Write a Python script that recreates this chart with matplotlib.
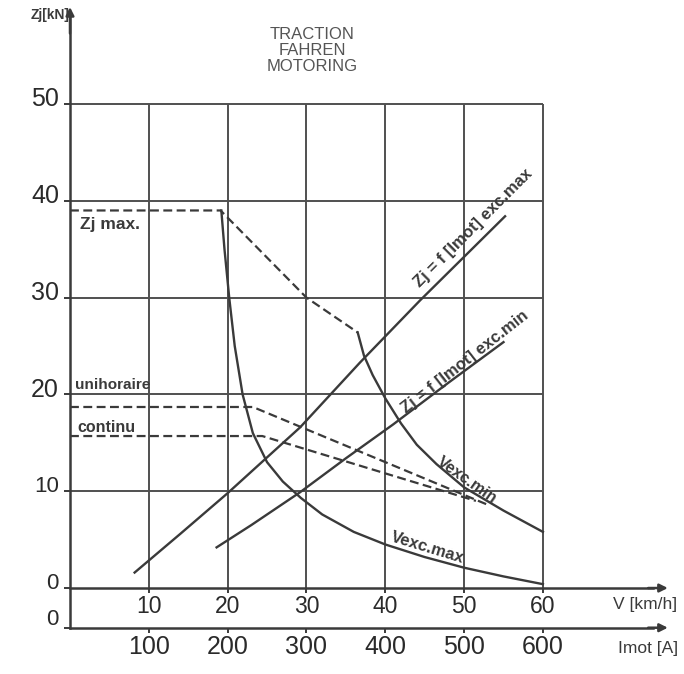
#Traction / Fahren / Motoring characteristic - Zj vs v and Imot
import matplotlib
matplotlib.use('Agg')
import matplotlib.pyplot as plt

plt.rcParams['font.family'] = ['Liberation Sans', 'DejaVu Sans']

#Data (v in km/h, Zj in kN)
v_ticks = [10, 20, 30, 40, 50, 60]
imot_ticks = [100, 200, 300, 400, 500, 600]
zj_ticks = [10, 20, 30, 40, 50]

zjmax_v = [0, 19.1, 30, 36.5]
zjmax_z = [39.0, 39.0, 30.0, 26.4]

unihor_v = [0, 23.2, 53.0]
unihor_z = [18.7, 18.7, 8.6]

continu_v = [0, 24.4, 51.5]
continu_z = [15.7, 15.7, 9.0]

vexcmax_v = [19.2, 19.6, 20.2, 20.9, 21.9, 23.2, 25, 27, 29.3, 32, 36, 40, 45, 50, 55, 60]
vexcmax_z = [39.0, 35, 30, 25, 20, 16, 13, 11, 9.3, 7.6, 5.8, 4.5, 3.2, 2.1, 1.2, 0.4]

vexcmin_v = [36.5, 37.3, 38.4, 40, 42, 44, 46.5, 50, 55, 60]
vexcmin_z = [26.4, 24, 22, 19.6, 17, 14.8, 12.8, 10.4, 8.0, 5.8]

excmax_v = [8.2, 14, 20, 29.2, 36.8, 44.4, 55.2]
excmax_z = [1.6, 5.6, 9.8, 16.6, 23.3, 29.7, 38.4]

excmin_v = [18.6, 23, 29.2, 35, 41, 48, 55]
excmin_z = [4.2, 6.5, 9.9, 13.4, 16.9, 21.2, 25.4]

ink = '#3a3a3a'
grid_c = '#505050'
num_c = '#2a2a2a'

fig = plt.figure(figsize=(6.84, 6.74), dpi=100)
ax = fig.add_axes([0, 0, 1, 1])
ax.set_xlim(-8.88, 77.9)
ax.set_ylim(-8.88, 60.74)
ax.axis('off')

#Grid
ax.vlines(v_ticks, 0, 50, color=grid_c, lw=1.4)
ax.hlines(zj_ticks, 0, 60, color=grid_c, lw=1.4)

#Axes with arrows
imot_y = -4.1
ax.plot([0, 0], [imot_y, 59], color=ink, lw=1.8)
ax.annotate('', xy=(0, 60.3), xytext=(0, 57),
            arrowprops=dict(arrowstyle='-|>', color=ink, lw=1.8, mutation_scale=12))
for y0 in [0, imot_y]:
    ax.plot([0, 74], [y0, y0], color=ink, lw=1.8)
    ax.annotate('', xy=(76.2, y0), xytext=(73, y0),
                arrowprops=dict(arrowstyle='-|>', color=ink, lw=1.8, mutation_scale=12))
ax.vlines(v_ticks, -0.5, 0, color=ink, lw=1.4)
ax.vlines([t / 10 for t in imot_ticks], imot_y - 0.5, imot_y, color=ink, lw=1.4)
ax.hlines(zj_ticks + [0], -0.8, 0, color=ink, lw=1.4)
ax.hlines([imot_y], -0.8, 0, color=ink, lw=1.4)

#Tick labels
for z in zj_ticks:
    fs = 18 if z >= 20 else 16
    ax.text(-1.4, z + 0.5, str(z), ha='right', va='center', fontsize=fs, color=num_c)
ax.text(-1.4, 0.5, '0', ha='right', va='center', fontsize=16, color=num_c)
ax.text(-1.4, imot_y + 0.8, '0', ha='right', va='center', fontsize=16, color=num_c)
for v in v_ticks:
    ax.text(v, -1.95, str(v), ha='center', va='center', fontsize=16.5, color=num_c)
for i in imot_ticks:
    ax.text(i / 10, -6.1, str(i), ha='center', va='center', fontsize=18, color=num_c)

ax.text(-5.0, 59.2, 'Zj[kN]', ha='left', va='center', fontsize=10, fontweight='bold', color=ink)
ax.text(68.9, -1.75, 'V [km/h]', ha='left', va='center', fontsize=12.5, color=ink)
ax.text(69.5, -6.2, 'Imot [A]', ha='left', va='center', fontsize=12.5, color=ink)
ax.text(30.7, 55.5, 'TRACTION\nFAHREN\nMOTORING', ha='center', va='center',
        fontsize=12, color='#555555', linespacing=1.1)

#Limit curves (dashed)
for xs, ys in [(zjmax_v, zjmax_z), (unihor_v, unihor_z), (continu_v, continu_z)]:
    ax.plot(xs, ys, color=ink, lw=1.6, dashes=(4, 2))

#Characteristic curves
ax.plot(vexcmax_v, vexcmax_z, color=ink, lw=1.7)
ax.plot(vexcmin_v, vexcmin_z, color=ink, lw=1.7)
ax.plot(excmax_v, excmax_z, color=ink, lw=1.7)
ax.plot(excmin_v, excmin_z, color=ink, lw=1.7)

#Curve labels
ax.text(1.3, 37.5, 'Zj max.', ha='left', va='center', fontsize=12.5, fontweight='bold', color=ink)
ax.text(0.6, 21.0, 'unihoraire', ha='left', va='center', fontsize=11, fontweight='bold', color=ink)
ax.text(0.9, 16.6, 'continu', ha='left', va='center', fontsize=11.5, fontweight='bold', color=ink)
ax.text(50.4, 11.1, 'Vexc.min', ha='center', va='center', rotation=-35,
        fontsize=11.5, fontweight='bold', color=ink)
ax.text(45.4, 4.2, 'Vexc.max', ha='center', va='center', rotation=-17,
        fontsize=12, fontweight='bold', color=ink)
ax.text(44.6, 30.8, 'Zj = f [Imot] exc.max', ha='left', va='bottom', rotation=45,
        rotation_mode='anchor', fontsize=12, fontweight='bold', color=ink)
ax.text(42.9, 17.8, 'Zj = f [Imot] exc.min', ha='left', va='bottom', rotation=38,
        rotation_mode='anchor', fontsize=12, fontweight='bold', color=ink)

plt.savefig('out.png', dpi=100)
